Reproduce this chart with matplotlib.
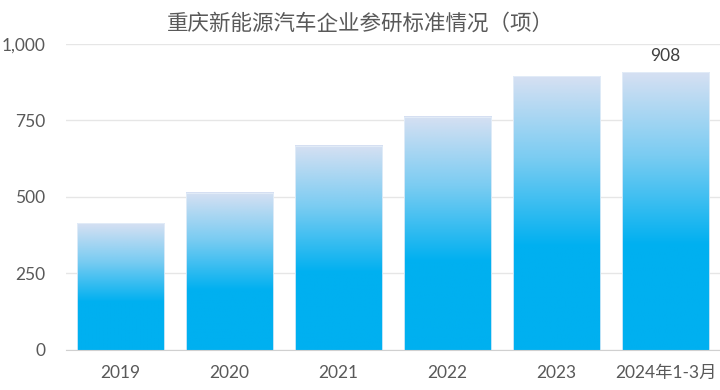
import matplotlib
matplotlib.use("Agg")
import matplotlib.pyplot as plt
import numpy as np
from matplotlib.colors import LinearSegmentedColormap

plt.rcParams['font.family'] = ['Lato', 'Noto Sans CJK SC', 'DejaVu Sans']

categories = ["2019", "2020", "2021", "2022", "2023", "2024年1-3月"]
values = [415, 514, 668, 762, 894, 908]
yticks = [0, 250, 500, 750, 1000]
ytick_labels = ["0", "250", "500", "750", "1,000"]
title = "重庆新能源汽车企业参研标准情况（项）"

fig = plt.figure(figsize=(7.2, 3.9), dpi=100)
ax = fig.add_axes([0.0917, 0.1026, 0.9083, 0.7846])

cmap = LinearSegmentedColormap.from_list(
    "g", [(0.0, "#00B0F0"), (0.38, "#00B0F0"), (0.7, "#7ACCF2"), (1.0, "#D6E0F2")])
grad = np.linspace(0, 1, 256).reshape(-1, 1)

x = np.arange(len(categories))
width = 0.8
bars = ax.bar(x, values, width=width, color="none", edgecolor="#E4EEF9", linewidth=0.6, zorder=3)
for b in bars:
    x0, y0 = b.get_x(), b.get_y()
    w, h = b.get_width(), b.get_height()
    ax.imshow(grad, cmap=cmap, origin="lower", aspect="auto",
              extent=[x0, x0 + w, y0, y0 + h], zorder=2, interpolation="bilinear")

ax.set_xlim(-0.5, len(categories) - 0.5)
ax.set_ylim(0, 1000)
ax.set_yticks(yticks)
ax.set_yticklabels(ytick_labels)
ax.set_xticks(x)
ax.set_xticklabels(categories)
ax.grid(axis="y", color="#E6E6E6", linewidth=1, zorder=0)
ax.set_axisbelow(True)
for s in ["top", "right", "left"]:
    ax.spines[s].set_visible(False)
ax.spines["bottom"].set_color("#D0D0D0")
ax.spines["bottom"].set_zorder(4)
ax.tick_params(axis="both", length=0, colors="#595959", labelsize=12.5)
ax.tick_params(axis="y", pad=15)
ax.tick_params(axis="x", pad=11)

ax.text(x[-1], values[-1] + 25, str(values[-1]), ha="center", va="bottom",
        fontsize=12.5, color="#404040")

fig.text(0.5, 0.94, title, ha="center", va="center", fontsize=15.5, color="#595959",
         family=['Noto Sans CJK SC', 'DejaVu Sans'])

fig.savefig("out.png", dpi=100)
